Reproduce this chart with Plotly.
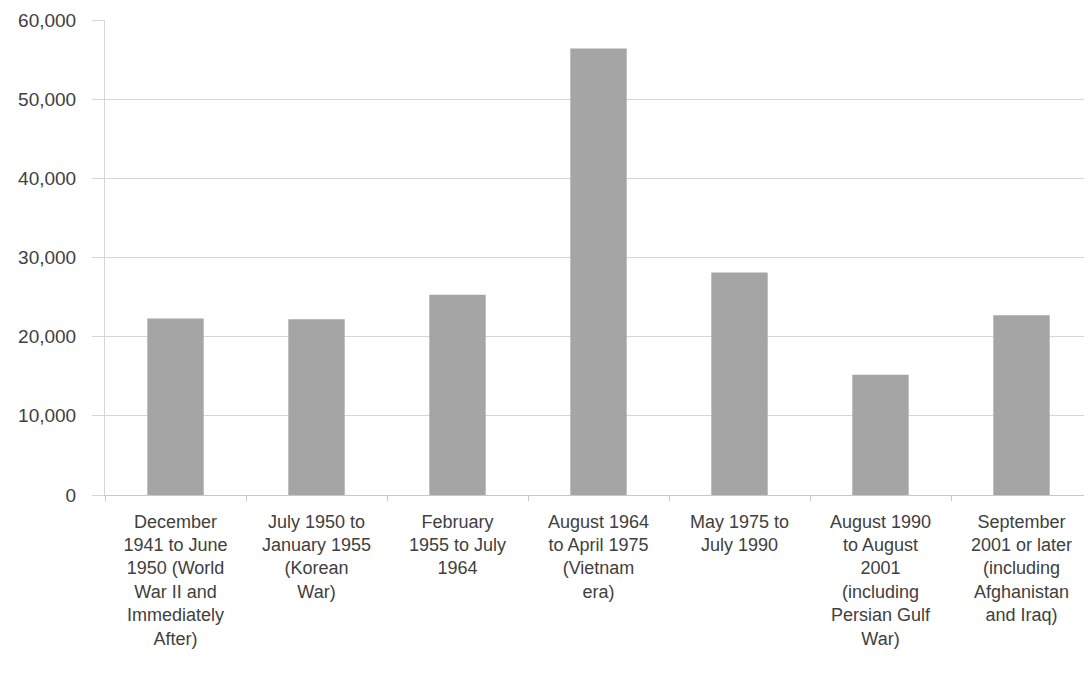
import plotly.graph_objects as go

categories = [
    "December 1941 to June 1950 (World War II and Immediately After)",
    "July 1950 to January 1955 (Korean War)",
    "February 1955 to July 1964",
    "August 1964 to April 1975 (Vietnam era)",
    "May 1975 to July 1990",
    "August 1990 to August 2001 (including Persian Gulf War)",
    "September 2001 or later (including Afghanistan and Iraq)",
]
tick_labels = [
    "December<br>1941 to June<br>1950 (World<br>War II and<br>Immediately<br>After)",
    "July 1950 to<br>January 1955<br>(Korean<br>War)",
    "February<br>1955 to July<br>1964",
    "August 1964<br>to April 1975<br>(Vietnam<br>era)",
    "May 1975 to<br>July 1990",
    "August 1990<br>to August<br>2001<br>(including<br>Persian Gulf<br>War)",
    "September<br>2001 or later<br>(including<br>Afghanistan<br>and Iraq)",
]
values = [22300, 22200, 25300, 56400, 28100, 15200, 22700]
y_ticks = [0, 10000, 20000, 30000, 40000, 50000, 60000]

fig = go.Figure(
    go.Bar(
        x=categories,
        y=values,
        marker=dict(color="#a5a5a5", line=dict(width=0)),
    )
)

fig.update_layout(
    width=1092,
    height=700,
    margin=dict(l=97, r=8, t=12, b=213, autoexpand=False),
    paper_bgcolor="white",
    plot_bgcolor="white",
    bargap=0.6,
    showlegend=False,
    font=dict(family="Arial, Liberation Sans, sans-serif", size=16, color="#404040"),
)
fig.update_xaxes(
    automargin=False,
    tickmode="array",
    tickvals=categories,
    ticktext=tick_labels,
    tickangle=0,
    showline=True,
    linecolor="#c8c8c8",
    linewidth=1,
    ticks="outside",
    tickson="boundaries",
    ticklen=5,
    tickcolor="#c8c8c8",
    ticklabelstandoff=10,
    showgrid=False,
    tickfont=dict(size=18, color="#404040"),
)
fig.update_yaxes(
    automargin=False,
    range=[0, 60000],
    tickvals=y_ticks,
    tickformat=",",
    showgrid=True,
    gridcolor="#d6d6d6",
    gridwidth=1,
    showline=True,
    linecolor="#d6d6d6",
    ticks="outside",
    ticklen=12,
    tickcolor="#d6d6d6",
    ticklabelstandoff=12,
    zeroline=False,
    tickfont=dict(size=19, color="#404040"),
)

fig.write_html("out.html")
